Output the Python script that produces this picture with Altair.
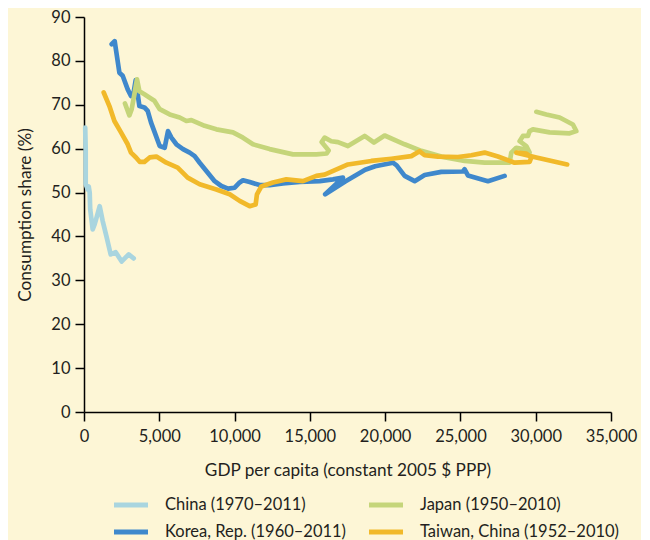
import altair as alt
import pandas as pd

# ---- data ----
korea_gdp = [1839, 2038, 2138, 2351, 2570, 2902, 3121, 3300, 3433, 3679, 4011, 4230, 4449, 4695,
             5027, 5358, 5578, 5803, 6135, 6574, 7018, 7350, 7682, 8127, 8678, 9123, 9562, 10006,
             10338, 10558, 11003, 11667, 12331, 13214, 14333, 15661, 16534, 17198, 16019, 17347,
             18675, 19339, 20518, 20763, 21296, 21960, 22624, 23731, 25166, 25279, 25498, 26826, 27934]
korea_share = [83.8, 84.5, 82.2, 77.3, 76.6, 73.5, 72.0, 72.8, 75.6, 69.7, 69.4, 68.6, 66.0, 63.7,
               60.6, 60.2, 64.0, 62.5, 61.0, 59.9, 59.1, 58.3, 56.8, 54.9, 52.6, 51.5, 50.9, 51.1,
               52.3, 52.8, 52.4, 51.7, 51.7, 52.1, 52.4, 52.6, 53.0, 53.4, 49.6, 52.5,
               55.2, 56.0, 56.8, 56.2, 53.8, 52.6, 54.0, 54.7, 54.8, 55.3, 53.9, 52.6, 53.8]

japan_gdp = [2722, 3015, 3167, 3347, 3519, 3679, 4011, 4363, 4675, 5027, 5691, 6355, 6799, 7131,
             8014, 8791, 9894, 10558, 11222, 12331, 13878, 15431, 16115, 16248, 15783, 15983,
             16427, 16866, 17530, 18638, 19256, 19966, 21294, 22403, 23731, 25278, 26606, 28266,
             28379, 28711, 29150, 29594, 29375, 28930, 29150, 29482, 29594, 29814, 30923, 32252,
             32696, 32470, 31587, 30704, 30040]
japan_share = [70.3, 67.6, 69.0, 72.4, 75.8, 73.1, 72.4, 71.6, 70.9, 69.0, 67.8, 67.1, 66.3, 66.5,
               65.2, 64.4, 63.7, 62.5, 61.0, 59.9, 58.7, 58.7, 58.9, 59.6, 61.5, 62.5,
               61.7, 61.5, 60.6, 62.9, 61.4, 63.0, 61.0, 59.5, 58.2, 57.2, 56.8, 56.8,
               59.1, 60.2, 59.9, 59.1, 60.6, 61.7, 62.9, 62.9, 64.0, 64.4, 63.7, 63.5,
               64.0, 65.5, 67.1, 67.8, 68.4]

china_gdp = [80, 113, 113, 246, 312, 378, 412, 578, 710, 843, 1042, 1242, 1507, 1773, 2105, 2503, 2968, 3300]
china_share = [64.8, 59.8, 51.9, 50.7, 51.4, 50.0, 46.2, 41.6, 42.8, 44.4, 46.9, 43.5, 39.8, 35.9, 36.4, 34.3, 35.9, 35.0]

taiwan_gdp = [1308, 1687, 2019, 2457, 2902, 3121, 3453, 3698, 4011, 4363, 4807, 5471, 6222, 6886,
              7682, 8791, 9675, 10338, 11003, 11401, 11487, 11779, 12550, 13439, 14542, 15431,
              15983, 17530, 19083, 20411, 21739, 22290, 22622, 23506, 24834, 25723, 26606, 27490,
              28598, 29594, 29707, 29375, 28711, 30040, 32089]
taiwan_share = [72.8, 69.7, 66.3, 63.7, 61.0, 59.1, 58.0, 57.0, 57.0, 58.0, 58.2, 56.8, 55.7, 53.4,
                51.9, 50.7, 49.6, 48.1, 46.9, 47.3, 49.6, 51.4, 52.3, 53.0, 52.6, 53.8,
                54.1, 56.4, 57.2, 57.7, 58.3, 59.4, 58.5, 58.2, 58.1, 58.5, 59.1, 58.2,
                56.8, 57.0, 58.0, 58.9, 59.1, 58.0, 56.4]

# legend order (filled column by column): China, Korea | Japan, Taiwan
series_names = ["China (1970–2011)", "Korea, Rep. (1960–2011)", "Japan (1950–2010)", "Taiwan, China (1952–2010)"]
series_colors = ["#a9d5df", "#3f88cc", "#c5d57a", "#f1b92a"]
x_ticks = [0, 5000, 10000, 15000, 20000, 25000, 30000, 35000]
y_ticks = [0, 10, 20, 30, 40, 50, 60, 70, 80, 90]

# drawing order: Korea, Japan, China, Taiwan (Taiwan on top)
rows = []
for name, xs, ys in [
    (series_names[1], korea_gdp, korea_share),
    (series_names[2], japan_gdp, japan_share),
    (series_names[0], china_gdp, china_share),
    (series_names[3], taiwan_gdp, taiwan_share),
]:
    for i, (a, b) in enumerate(zip(xs, ys)):
        rows.append({"series": name, "gdp": a, "share": b, "idx": i})
df = pd.DataFrame(rows)

FONT = "Lato"
TXT = "#231f20"

chart = alt.Chart(df).mark_line(
    strokeWidth=4.7, strokeCap="round", strokeJoin="round", interpolate="linear"
).encode(
    x=alt.X("gdp:Q",
            scale=alt.Scale(domain=[0, 35000], nice=False),
            axis=alt.Axis(values=x_ticks, format=",d", title="GDP per capita (constant 2005 $ PPP)",
                          grid=False, tickSize=9, labelPadding=7, titlePadding=17,
                          labelOverlap=False, labelFlush=False)),
    y=alt.Y("share:Q",
            scale=alt.Scale(domain=[0, 90], nice=False),
            axis=alt.Axis(values=y_ticks, title="Consumption share (%)",
                          grid=False, tickSize=9, labelPadding=5, titlePadding=16,
                          labelOverlap=False)),
    color=alt.Color("series:N",
                    scale=alt.Scale(domain=series_names, range=series_colors),
                    legend=alt.Legend(title=None, orient="none", legendX=36, legendY=477,
                                      columns=2, direction="vertical",
                                      symbolType="M-2,0H2", symbolSize=289, symbolStrokeWidth=5,
                                      labelOffset=23, columnPadding=12, rowPadding=6,
                                      labelFontSize=16.5, labelFont=FONT, labelColor=TXT,
                                      labelLimit=400, padding=0)),
    order=alt.Order("idx:Q"),
).properties(
    width=527, height=395,
    background="#fdf6d6",
    padding={"left": 76, "top": 9, "right": 30, "bottom": 128},
    autosize=alt.AutoSizeParams(type="none"),
).configure_view(stroke=None).configure_axis(
    domainColor="#000000", domainWidth=1.5, tickColor="#000000", tickWidth=1.5,
    labelFont=FONT, labelFontSize=16.5, labelColor=TXT,
    titleFont=FONT, titleFontSize=17.2, titleColor=TXT, titleFontWeight="normal",
)

chart.save("out.html", embed_options={"renderer": "svg", "actions": False})
